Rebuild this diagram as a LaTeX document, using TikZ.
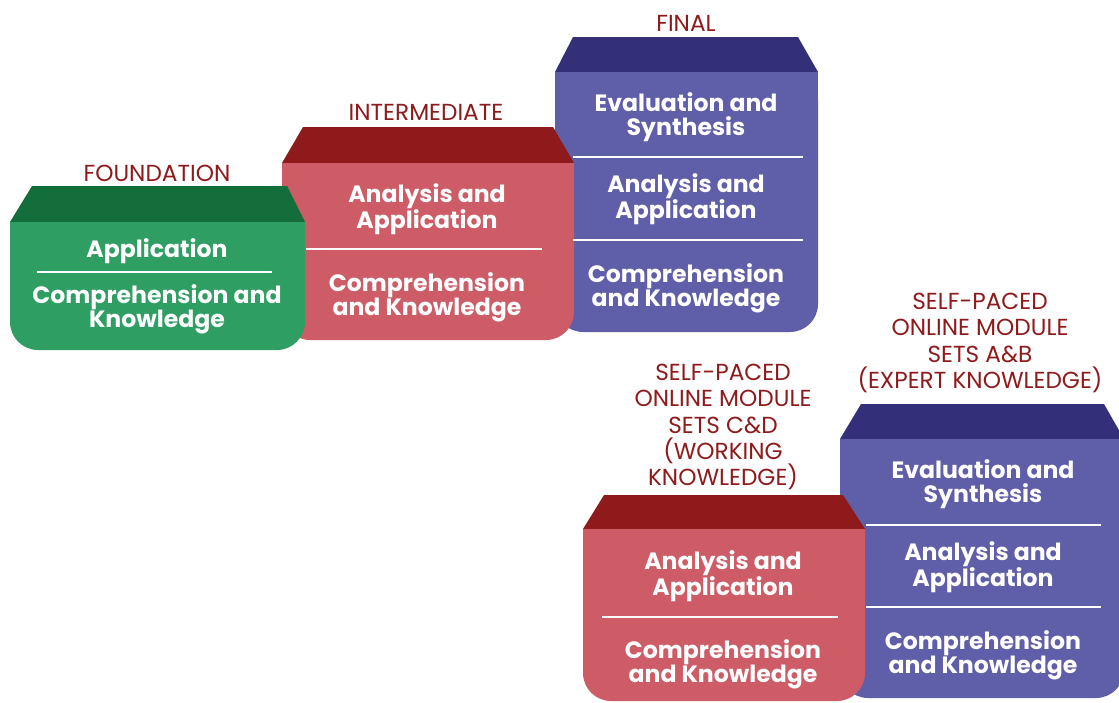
\documentclass[tikz,border=0pt]{standalone}
\usepackage{fontspec}
\setmainfont{Poppins}
\definecolor{hdr}{HTML}{8E1A1C}
\definecolor{gtop}{HTML}{146E3B}
\definecolor{gbody}{HTML}{2E9E63}
\definecolor{rtop}{HTML}{8E1A1C}
\definecolor{rbody}{HTML}{CD5C66}
\definecolor{ptop}{HTML}{332F78}
\definecolor{pbody}{HTML}{5F5EA8}
\newcommand{\myblock}[9]{%
% #1 body left x, #2 body right x, #3 top left x, #4 top right x, #5 y top, #6 y mid, #7 y bottom, #8 top colour, #9 body colour
\fill[#8] (#1,#6) -- (#3,#5) -- (#4,#5) -- (#2,#6) -- cycle;
\fill[#9,rounded corners=28pt] (#1,#6) rectangle (#2,#7);
\fill[#9] (#1,#6) rectangle (#2,#6+40);
}
\begin{document}
\begin{tikzpicture}[x=1pt,y=-1pt,
  hdrtext/.style={text=hdr,font=\fontsize{23.2}{26.3}\selectfont,align=center,inner sep=0pt},
  bodytext/.style={text=white,font=\fontsize{23.6}{24}\selectfont\bfseries,align=center,inner sep=0pt},
  divider/.style={white,line width=2pt}]
\useasboundingbox (0,0) rectangle (1119,702);
% final (purple)
\myblock{555}{818}{573}{798}{37}{72}{332}{ptop}{pbody}
% intermediate (red)
\myblock{282}{574}{303}{553}{127}{163}{340}{rtop}{rbody}
% foundation (green)
\myblock{10}{305}{32}{287}{186}{222}{350}{gtop}{gbody}
% lower purple
\myblock{840}{1124}{861}{1104}{404}{439}{698}{ptop}{pbody}
% lower red
\myblock{583}{865}{604}{843}{495}{529}{701}{rtop}{rbody}

% dividers
\draw[divider] (37,272) -- (272,272);
\draw[divider] (306,249) -- (542,249);
\draw[divider] (573,157) -- (803,157);
\draw[divider] (573,240) -- (803,240);
\draw[divider] (602,617) -- (838,617);
\draw[divider] (866,525) -- (1101,525);
\draw[divider] (866,607) -- (1101,607);

% headers
\node[hdrtext] (hfound) at (157,173) {FOUNDATION};
\node[hdrtext] (hinter) at (426,112) {INTERMEDIATE};
\node[hdrtext] (hfinal) at (686,23) {FINAL};
\node[hdrtext] (hcd) at (723,427) {SELF-PACED\\ONLINE MODULE\\SETS C\&D\\(WORKING\\KNOWLEDGE)};
\node[hdrtext] (hab) at (980,343) {SELF-PACED\\ONLINE MODULE\\SETS A\&B\\(EXPERT KNOWLEDGE)};

% green texts
\node[bodytext] (g1) at (157,251) {Application};
\node[bodytext] (g2) at (157,309) {Comprehension and\\Knowledge};
% red texts
\node[bodytext] (r1) at (427,209) {Analysis and\\Application};
\node[bodytext] (r2) at (427,297) {Comprehension\\and Knowledge};
% purple texts
\node[bodytext] (p1) at (686,117) {Evaluation and\\Synthesis};
\node[bodytext] (p2) at (686,199) {Analysis and\\Application};
\node[bodytext] (p3) at (686,288) {Comprehension\\and Knowledge};
% lower red texts
\node[bodytext] (lr1) at (723,576) {Analysis and\\Application};
\node[bodytext] (lr2) at (723,664) {Comprehension\\and Knowledge};
% lower purple texts
\node[bodytext] (lp1) at (983,484) {Evaluation and\\Synthesis};
\node[bodytext] (lp2) at (983,567) {Analysis and\\Application};
\node[bodytext] (lp3) at (983,655) {Comprehension\\and Knowledge};
\end{tikzpicture}
\end{document}
